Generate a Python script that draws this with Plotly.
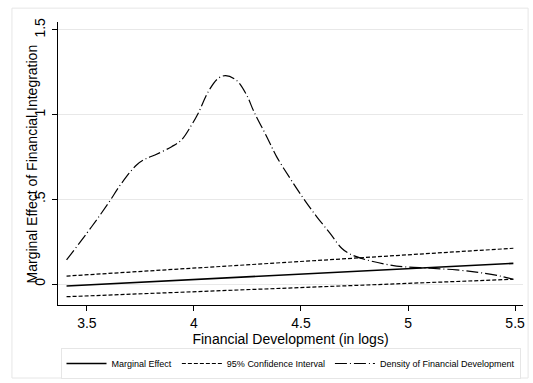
import plotly.graph_objects as go

# Data
me_x = [3.405, 5.492]
me_y = [-0.012, 0.122]
ci_upper_y = [0.047, 0.211]
ci_lower_y = [-0.075, 0.028]

dens_x = [3.405, 3.522, 3.600, 3.662, 3.732, 3.771, 3.818, 3.896, 3.942, 3.989, 4.020,
          4.067, 4.114, 4.148, 4.200, 4.246, 4.280, 4.340, 4.386, 4.449, 4.511, 4.573,
          4.636, 4.690, 4.729, 4.807, 4.946, 5.103, 5.227, 5.336, 5.430, 5.492]
dens_y = [0.142, 0.338, 0.477, 0.595, 0.703, 0.737, 0.762, 0.811, 0.851, 0.939, 1.008,
          1.136, 1.215, 1.230, 1.201, 1.116, 1.018, 0.870, 0.752, 0.624, 0.506, 0.398,
          0.299, 0.211, 0.177, 0.142, 0.106, 0.093, 0.083, 0.067, 0.047, 0.028]

x_ticks = [3.5, 4, 4.5, 5, 5.5]
x_tick_labels = ["3.5", "4", "4.5", "5", "5.5"]
y_ticks = [0, 0.5, 1, 1.5]
y_tick_labels = ["0", ".5", "1", "1.5"]

FONT = "Liberation Sans, Arial, sans-serif"

fig = go.Figure()
fig.add_trace(go.Scatter(x=me_x, y=me_y, mode="lines", name="Marginal Effect",
                         line=dict(color="black", width=1.6)))
fig.add_trace(go.Scatter(x=me_x, y=ci_upper_y, mode="lines", name="95% Confidence Interval",
                         line=dict(color="black", width=1.2, dash="4px,2px")))
fig.add_trace(go.Scatter(x=me_x, y=ci_lower_y, mode="lines", name="95% Confidence Interval",
                         showlegend=False,
                         line=dict(color="black", width=1.2, dash="4px,2px")))
fig.add_trace(go.Scatter(x=dens_x, y=dens_y, mode="lines", name="Density of Financial Development",
                         line=dict(color="black", width=1.2, dash="12px,3px,1px,3px", shape="spline")))

fig.update_layout(
    width=533, height=383,
    margin=dict(l=58, r=10, t=22, b=78, autoexpand=False),
    paper_bgcolor="white", plot_bgcolor="white",
    font=dict(family=FONT, color="black"),
    showlegend=True,
    legend=dict(orientation="h", x=0.5, xanchor="center", y=-0.152, yanchor="top",
                xref="paper", yref="paper",
                font=dict(size=9, family=FONT), bordercolor="#e6e6e6", borderwidth=1,
                itemwidth=40, tracegroupgap=0),
    xaxis=dict(range=[3.365, 5.537], tickvals=x_ticks, ticktext=x_tick_labels,
               automargin=False,
               showgrid=False, zeroline=False, showline=True, linecolor="black", linewidth=1.2,
               ticks="outside", ticklen=5, tickcolor="black", tickfont=dict(size=14),
               title=dict(text="Financial Development (in logs)", font=dict(size=14), standoff=2)),
    yaxis=dict(range=[-0.124, 1.547], tickvals=y_ticks, ticktext=y_tick_labels,
               automargin=False,
               showgrid=True, gridcolor="#e8e8e8", gridwidth=1, zeroline=False,
               showline=True, linecolor="black", linewidth=1.2,
               ticks="outside", ticklen=5, tickcolor="black", tickangle=-90,
               ticklabelstandoff=1,
               tickfont=dict(size=14)),
    annotations=[dict(text="Marginal Effect of Financial Integration", xref="paper", yref="paper",
                      x=-0.056, y=0.5, xanchor="center", yanchor="middle", textangle=-90,
                      showarrow=False, font=dict(size=14, family=FONT))],
    shapes=[dict(type="rect", xref="paper", yref="paper", x0=-0.099, x1=1.011, y0=-0.258, y1=1.049,
                 line=dict(color="#e6e6e6", width=1), layer="below")]
)

fig.write_html("out.html", config={"displayModeBar": False},
               post_script="document.body.style.margin='0';document.body.style.overflow='hidden';")
